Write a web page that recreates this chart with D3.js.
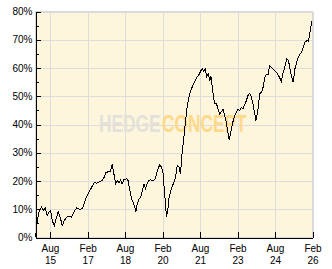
<!DOCTYPE html>
<html>
<head>
<meta charset="utf-8">
<script src="https://cdn.jsdelivr.net/npm/d3@7"></script>
<style>
  body { margin: 0; background: #fff; }
  svg { display: block; }
  .axis text { font-family: "Liberation Sans", sans-serif; font-size: 10px; fill: #000; }
</style>
</head>
<body>
<svg></svg>
<script>
// dates et valeurs (performance cumulée en %)
const dates = [
  "2015-01-02","2015-01-27","2015-02-20","2015-03-30","2015-04-23","2015-05-22","2015-06-21","2015-07-15",
  "2015-08-10","2015-09-03","2015-10-02","2015-11-06","2015-11-29","2015-12-28","2016-01-27","2016-02-25",
  "2016-03-30","2016-05-08","2016-06-12","2016-07-05","2016-08-04","2016-08-24","2016-09-17","2016-10-22",
  "2016-11-20","2016-12-13","2017-01-04","2017-02-10","2017-03-05","2017-04-14","2017-05-17","2017-06-11",
  "2017-07-05","2017-08-09","2017-09-08","2017-10-01","2017-10-26","2017-12-04","2018-01-03","2018-01-26",
  "2018-02-20","2018-03-19","2018-04-14","2018-05-07","2018-05-27","2018-06-20","2018-07-14","2018-08-23",
  "2018-09-16","2018-10-11","2018-11-05","2018-11-28","2018-12-23","2019-01-07","2019-01-26","2019-02-25",
  "2019-03-19","2019-04-14","2019-05-07","2019-05-27","2019-06-20","2019-07-14","2019-08-13","2019-09-16",
  "2019-10-11","2019-11-05","2019-11-28","2019-12-23","2020-01-17","2020-02-10","2020-02-24","2020-03-19",
  "2020-03-29","2020-04-22","2020-05-07","2020-06-01","2020-06-26","2020-07-19","2020-08-09","2020-09-02",
  "2020-09-26","2020-10-21","2020-11-05","2020-11-28","2020-12-30","2021-01-29","2021-03-05","2021-04-08",
  "2021-05-02","2021-06-11","2021-07-14","2021-08-13","2021-09-07","2021-09-26","2021-10-21","2021-11-05",
  "2021-11-28","2021-12-23","2022-01-07","2022-02-01","2022-02-20","2022-03-05","2022-03-29","2022-04-22",
  "2022-05-16","2022-06-11","2022-07-04","2022-07-29","2022-08-23","2022-09-16","2022-10-03","2022-11-05",
  "2022-11-28","2022-12-22","2023-01-17","2023-02-10","2023-03-04","2023-03-29","2023-04-22","2023-05-16",
  "2023-06-11","2023-07-04","2023-07-29","2023-08-23","2023-09-16","2023-10-10","2023-10-29","2023-11-28",
  "2023-12-22","2024-01-17","2024-02-10","2024-02-24","2024-03-14","2024-04-07","2024-04-22","2024-05-16",
  "2024-06-11","2024-07-04","2024-07-28","2024-08-23","2024-09-16","2024-10-10","2024-11-02","2024-11-24",
  "2024-12-18","2025-01-21","2025-02-15","2025-03-08","2025-04-03","2025-04-25","2025-05-20","2025-06-15",
  "2025-07-09","2025-08-02","2025-08-27","2025-09-21","2025-10-14","2025-11-09","2025-12-03","2025-12-17",
  "2026-01-06","2026-01-25"
];
const values = [
  0.0, 6.0, 9.0, 10.7, 9.5, 10.5, 7.8, 9.0,
  9.5, 6.0, 4.2, 7.2, 9.2, 7.2, 4.2, 6.0,
  7.2, 7.5, 7.2, 8.4, 9.8, 10.5, 10.2, 9.9,
  10.5, 11.9, 13.7, 15.5, 16.6, 18.4, 19.6, 19.2,
  19.6, 19.8, 20.4, 21.3, 22.9, 23.4, 23.5, 26.1,
  22.5, 19.0, 20.2, 19.4, 20.4, 19.0, 20.4, 20.8,
  20.2, 16.6, 13.7, 12.5, 10.7, 9.0, 11.9, 13.7,
  14.3, 16.6, 19.0, 17.2, 19.0, 20.2, 20.4, 20.2,
  20.4, 22.5, 24.3, 25.8, 24.9, 22.5, 17.8, 10.7,
  7.2, 10.7, 14.3, 16.6, 18.4, 19.6, 21.3, 25.5,
  25.1, 22.5, 28.0, 33.0, 40.5, 47.0, 51.0, 53.2,
  54.4, 56.6, 57.5, 59.0, 59.8, 58.8, 59.8, 56.8,
  58.0, 55.6, 57.3, 52.6, 49.0, 47.3, 47.5, 45.5,
  43.8, 44.5, 45.5, 43.0, 40.5, 37.0, 34.5, 38.5,
  41.2, 43.2, 44.5, 45.5, 44.9, 46.1, 45.5, 47.0,
  48.5, 50.3, 51.1, 49.7, 47.3, 43.8, 41.4, 45.5,
  50.9, 51.4, 53.2, 55.0, 57.3, 57.9, 57.6, 60.9,
  60.3, 59.7, 59.1, 58.5, 57.5, 56.5, 55.3, 57.9,
  59.7, 63.2, 62.7, 59.7, 56.7, 55.0, 59.7, 62.0,
  63.8, 65.0, 65.6, 67.4, 69.1, 69.7, 69.5, 71.5,
  74.4, 76.8
];

// graduations
const yTicks = [0, 10, 20, 30, 40, 50, 60, 70, 80];
const yMinorTicks = [5, 15, 25, 35, 45, 55, 65, 75];
const xTickDates = ["2015-08-01","2017-02-01","2018-08-01","2020-02-01","2021-08-01","2023-02-01","2024-08-01","2026-02-01"];
const xTickLabels = ["Aug 15","Feb 17","Aug 18","Feb 20","Aug 21","Feb 23","Aug 24","Feb 26"];

const parse = d3.utcParse("%Y-%m-%d");
const data = dates.map((d, i) => ({ date: parse(d), value: values[i] }));
const xTicks = xTickDates.map(parse);

const width = 332, height = 269;
const svg = d3.select("svg").attr("width", width).attr("height", height);

const x = d3.scaleUtc()
    .domain([parse("2015-01-01"), parse("2026-02-01")])
    .range([35.5, 312.5]);
const y = d3.scaleLinear()
    .domain([0, 80])
    .range([237.5, 11.5]);

// fond de la zone du graphique
svg.append("rect")
    .attr("x", x.range()[0])
    .attr("y", y.range()[1])
    .attr("width", x.range()[1] - x.range()[0])
    .attr("height", y.range()[0] - y.range()[1])
    .attr("fill", "#fdf5dc")
    .attr("stroke", "#d9d9d9")
    .attr("shape-rendering", "crispEdges");

// grille
svg.append("g")
    .selectAll("line")
    .data(yTicks.slice(1))
    .join("line")
    .attr("x1", x.range()[0]).attr("x2", x.range()[1])
    .attr("y1", d => Math.round(y(d)) + 0.5).attr("y2", d => Math.round(y(d)) + 0.5)
    .attr("stroke", "#dcdcdc")
    .attr("shape-rendering", "crispEdges");

svg.append("g")
    .selectAll("line")
    .data(xTicks)
    .join("line")
    .attr("x1", d => Math.round(x(d)) + 0.5).attr("x2", d => Math.round(x(d)) + 0.5)
    .attr("y1", y.range()[1]).attr("y2", y.range()[0])
    .attr("stroke", "#dcdcdc")
    .attr("shape-rendering", "crispEdges");

// filigrane, étiré en hauteur
const wm = svg.append("g")
    .attr("transform", "translate(99,132) scale(1,1.33)")
    .attr("font-family", "Liberation Sans, sans-serif")
    .attr("font-weight", "bold").attr("font-size", "17.3px");
wm.append("text").attr("x", 0).attr("fill", "#e3e1da").text("HEDGE");
wm.append("text").attr("x", 63).attr("fill", "#fdd98a").text("CONCEPT");

// courbe
const line = d3.line()
    .x(d => x(d.date))
    .y(d => y(d.value));

svg.append("path")
    .datum(data)
    .attr("d", line)
    .attr("fill", "none")
    .attr("stroke", "#000")
    .attr("stroke-width", 1)
    .attr("shape-rendering", "crispEdges");

// axe Y
svg.append("g")
    .attr("class", "axis")
    .attr("transform", `translate(${x.range()[0]},0)`)
    .call(d3.axisLeft(y).tickValues(yTicks).tickSize(-5).tickSizeOuter(0).tickPadding(3)
        .tickFormat(d => d + "%"))
    .call(g => g.selectAll("path, line").attr("stroke", "#000").attr("shape-rendering", "crispEdges"));

svg.append("g")
    .attr("transform", `translate(${x.range()[0]},0)`)
    .call(d3.axisLeft(y).tickValues(yMinorTicks).tickSize(-3).tickFormat(""))
    .call(g => g.select(".domain").remove())
    .call(g => g.selectAll("line").attr("stroke", "#000").attr("shape-rendering", "crispEdges"));

// axe X (étiquettes sur deux lignes)
svg.append("g")
    .attr("class", "axis")
    .attr("transform", `translate(0,${y.range()[0]})`)
    .call(d3.axisBottom(x).tickValues(xTicks).tickSize(-6).tickSizeOuter(0).tickFormat(""))
    .call(g => g.selectAll("path, line").attr("stroke", "#000").attr("shape-rendering", "crispEdges"))
    .call(g => g.selectAll(".tick text")
        .attr("y", 0).attr("dy", null)
        .selectAll("tspan")
        .data((d, i) => xTickLabels[i].split(" "))
        .join("tspan")
        .attr("x", 0)
        .attr("y", (d, i) => 14.5 + i * 12)
        .text(d => d));
</script>
</body>
</html>
